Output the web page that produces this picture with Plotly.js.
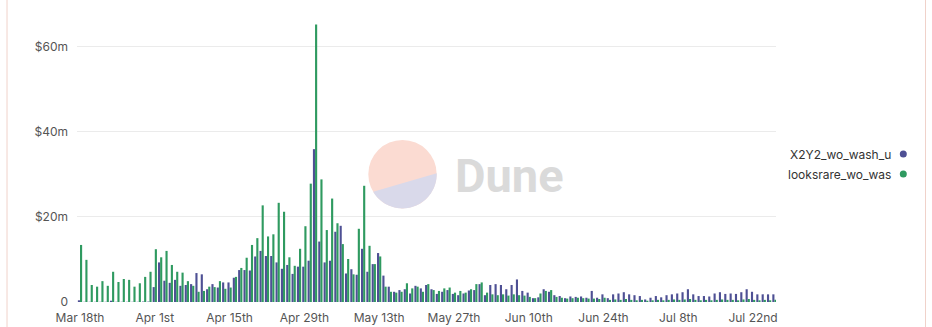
<!DOCTYPE html>
<html>
<head>
<meta charset="utf-8">
<script src="https://cdn.plot.ly/plotly-3.0.1.min.js"></script>
<style>
html,body{margin:0;padding:0;background:#fff;}
#chart{width:932px;height:327px;}
</style>
</head>
<body>
<div id="chart"></div>
<script>
// ---- data (values in USD millions) ----
const startDate = "2022-03-18";
const dayCount = 131;

const x2y2Volume = [
  0.4, 0.05, 0.05, 0.05, 0.05, 0.05, 0.3, 0.05, 0.05, 0.05,
  0.05, 0.05, 0.1, 0.1, 3.5, 9.3, 5.0, 4.5, 5.2, 3.8,
  4.0, 4.2, 6.8, 6.5, 3.0, 4.2, 3.4, 4.6, 4.6, 5.7,
  7.5, 7.5, 7.4, 10.7, 12.0, 10.8, 10.8, 9.3, 7.8, 8.7,
  6.6, 8.3, 8.3, 9.7, 35.9, 14.2, 9.3, 9.7, 16.5, 17.9,
  6.7, 7.7, 6.4, 12.5, 7.1, 8.9, 11.5, 6.2, 3.6, 2.4,
  2.8, 3.0, 2.0, 3.8, 3.2, 4.0, 3.0, 1.9, 2.4, 2.8,
  1.9, 1.6, 2.0, 2.7, 2.8, 4.2, 1.6, 4.0, 4.2, 4.0,
  3.0, 4.0, 5.3, 2.6, 2.2, 0.9, 1.1, 3.0, 2.4, 1.6,
  1.4, 0.9, 1.3, 1.2, 1.3, 1.0, 2.6, 1.0, 1.8, 0.9,
  1.8, 2.0, 2.3, 1.8, 1.6, 1.4, 0.6, 1.0, 1.4, 1.1,
  1.6, 1.8, 2.0, 2.3, 3.0, 1.8, 1.4, 1.4, 1.3, 2.0,
  2.3, 1.9, 2.0, 1.9, 2.3, 3.0, 2.4, 1.8, 1.8, 1.8,
  1.8
];

const looksrareVolume = [
  13.4, 9.9, 4.0, 3.6, 4.9, 3.8, 7.1, 4.7, 5.4, 5.2,
  3.6, 4.4, 5.9, 7.1, 12.4, 10.5, 12.0, 8.7, 7.1, 6.9,
  4.9, 3.8, 2.4, 2.6, 3.6, 3.5, 4.9, 3.1, 3.4, 5.9,
  8.0, 10.4, 13.4, 15.0, 22.7, 15.4, 15.9, 23.3, 21.2, 10.5,
  8.5, 12.5, 17.8, 27.8, 65.2, 28.8, 16.9, 24.3, 18.5, 13.6,
  10.1, 6.5, 17.2, 27.3, 13.2, 8.9, 10.7, 3.6, 2.4, 2.2,
  2.4, 4.4, 3.2, 3.6, 2.4, 4.2, 2.8, 2.6, 3.2, 3.4,
  2.2, 2.6, 2.2, 3.0, 4.2, 4.6, 2.2, 1.8, 1.6, 1.8,
  1.5, 1.8, 1.6, 1.5, 1.2, 0.9, 2.0, 2.6, 2.8, 1.2,
  1.0, 0.8, 0.9, 1.0, 0.9, 0.8, 0.8, 0.7, 1.0, 0.5,
  0.6, 0.5, 0.7, 0.5, 0.4, 0.5, 0.3, 0.4, 0.5, 0.4,
  0.5, 0.6, 0.5, 0.6, 0.7, 0.5, 0.4, 0.5, 0.4, 0.5,
  0.6, 0.5, 0.5, 0.4, 0.6, 0.7, 0.5, 0.4, 0.5, 0.4,
  0.5
];

const tickDates = ["2022-03-18","2022-04-01","2022-04-15","2022-04-29","2022-05-13",
                   "2022-05-27","2022-06-10","2022-06-24","2022-07-08","2022-07-22"];
const tickLabels = ["Mar 18th","Apr 1st","Apr 15th","Apr 29th","May 13th",
                    "May 27th","Jun 10th","Jun 24th","Jul 8th","Jul 22nd"];

const yTickVals = [0, 20e6, 40e6, 60e6];
const yTickLabels = ["0", "$20m", "$40m", "$60m"];

const seriesNames = ["X2Y2_wo_wash_usd_volume", "looksrare_wo_wash_usd_volume"];
const legendLabels = ["X2Y2_wo_wash_u", "looksrare_wo_was"];
const seriesColors = ["#4e5094", "#2f9a60"];

// ---- build dates ----
const dates = [];
{
  const d0 = new Date(startDate + "T00:00:00Z");
  for (let i = 0; i < dayCount; i++) {
    const d = new Date(d0.getTime() + i * 86400000);
    dates.push(d.toISOString().slice(0, 10));
  }
}
const toUsd = arr => arr.map(v => v * 1e6);

// ---- geometry helpers (pixel -> paper) ----
const L = 77, R = 776, T = 4, B = 302;
const W = R - L, H = B - T;
const px = X => (X - L) / W;
const py = Y => (B - Y) / H;

const traces = [
  {type: "bar", name: seriesNames[0], x: dates, y: toUsd(x2y2Volume),
   marker: {color: seriesColors[0]}, showlegend: false},
  {type: "bar", name: seriesNames[1], x: dates, y: toUsd(looksrareVolume),
   marker: {color: seriesColors[1]}, showlegend: false}
];

// watermark lower half polygon
const cx = 402.5, cy = 174.2, r = 34.2;
const a1 = -1.5 * Math.PI / 180, a2 = 149 * Math.PI / 180;
let path = "";
for (let k = 0; k <= 60; k++) {
  const a = a1 + (a2 - a1) * k / 60;
  const X = cx + r * Math.cos(a), Y = cy + r * Math.sin(a);
  path += (k === 0 ? "M" : "L") + px(X).toFixed(5) + "," + py(Y).toFixed(5) + " ";
}
path += "Z";

const shapes = [
  {type: "circle", xref: "paper", yref: "paper", layer: "below",
   x0: px(cx - r), x1: px(cx + r), y0: py(cy + r), y1: py(cy - r),
   fillcolor: "#fbdbd2", line: {width: 0}},
  {type: "path", xref: "paper", yref: "paper", layer: "below", path: path,
   fillcolor: "#d9d9ea", line: {width: 0}},
  // card borders
  {type: "line", xref: "paper", yref: "paper", x0: px(7), x1: px(7), y0: -0.2, y1: 1.2,
   line: {color: "#f0d2ca", width: 1}},
  {type: "line", xref: "paper", yref: "paper", x0: px(925.5), x1: px(925.5), y0: -0.2, y1: 1.2,
   line: {color: "#f0d2ca", width: 1}}
];

// legend dots
const legendY = [154, 174];
legendY.forEach((Y, i) => {
  shapes.push({type: "circle", xref: "paper", yref: "paper",
    xsizemode: "pixel", ysizemode: "pixel",
    xanchor: px(903.3), yanchor: py(Y),
    x0: -3.5, x1: 3.5, y0: -3.5, y1: 3.5,
    fillcolor: seriesColors[i], line: {width: 0}});
});

const annotations = [
  {xref: "paper", yref: "paper", x: px(509), y: py(175), xanchor: "center", yanchor: "middle",
   text: "Dune", showarrow: false,
   font: {family: "Roboto", size: 47, color: "#dadada", weight: 700}}
];
legendY.forEach((Y, i) => {
  annotations.push({xref: "paper", yref: "paper", x: px(893), y: py(Y),
    xanchor: "right", yanchor: "middle", text: legendLabels[i], showarrow: false,
    font: {family: "Inter, sans-serif", size: 12, color: "#333333"}});
});

const layout = {
  width: 932, height: 327,
  margin: {l: L, r: 932 - R, t: T, b: 327 - B, pad: 0},
  paper_bgcolor: "#ffffff", plot_bgcolor: "#ffffff",
  font: {family: "Inter, sans-serif", size: 12, color: "#555555"},
  barmode: "group", bargap: 0.2, bargroupgap: 0,
  showlegend: false,
  xaxis: {
    type: "date",
    range: ["2022-03-17 10:30", "2022-07-26 07:00"],
    tickmode: "array", tickvals: tickDates, ticktext: tickLabels,
    showgrid: false, zeroline: false, showline: false, ticks: "",
    ticklabelstandoff: 7,
    tickfont: {size: 12, color: "#555555"}
  },
  yaxis: {
    range: [0, 70e6],
    tickmode: "array", tickvals: yTickVals, ticktext: yTickLabels,
    showgrid: true, gridcolor: "#ebebeb", gridwidth: 1,
    zeroline: false, showline: false, ticks: "",
    ticklabelstandoff: 8,
    tickfont: {size: 12, color: "#555555"}
  },
  shapes: shapes,
  annotations: annotations
};

Plotly.newPlot("chart", traces, layout, {displayModeBar: false, staticPlot: true});
</script>
</body>
</html>
